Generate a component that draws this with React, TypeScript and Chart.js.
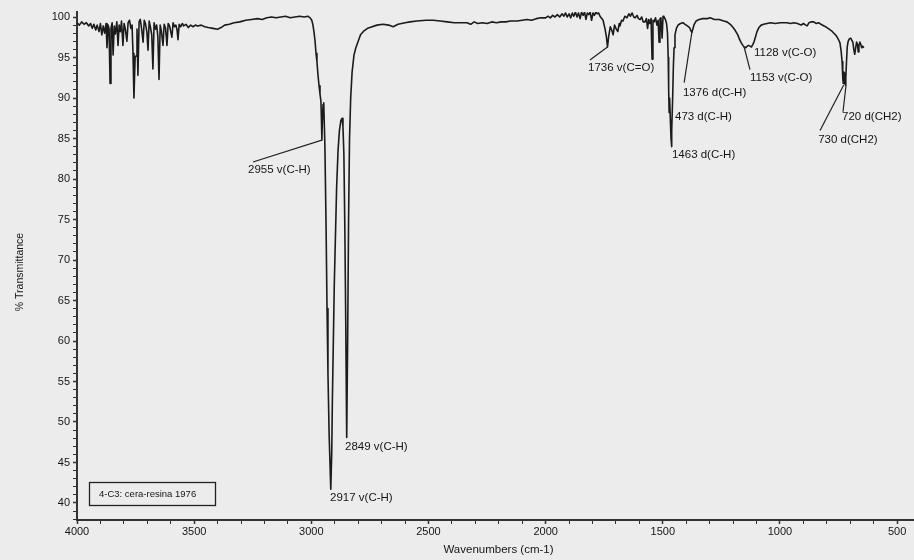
import React, { useEffect, useRef } from "react";
import { Chart, registerables } from "chart.js";

Chart.register(...registerables);

const FONT = '"Liberation Sans", Arial, Helvetica, sans-serif';
const BG = "#ececec";
const INK = "#151515";

// Spectrum: wavenumber (cm-1) and % transmittance
const wavenumbers = [
  4000, 3990, 3980, 3970, 3960, 3950, 3942, 3935, 3928, 3920, 3914, 3906, 3900, 3894, 3888, 3882, 3876, 3872, 3867, 3863,
  3859, 3855, 3850, 3846, 3841, 3836, 3830, 3825, 3820, 3815, 3810, 3804, 3799, 3793, 3787, 3782, 3776, 3770, 3765, 3761,
  3757, 3752, 3748, 3744, 3740, 3735, 3730, 3724, 3718, 3713, 3708, 3702, 3697, 3692, 3687, 3681, 3676, 3671, 3665, 3660,
  3655, 3650, 3645, 3640, 3633, 3628, 3622, 3616, 3611, 3605, 3600, 3595, 3590, 3584, 3578, 3573, 3569, 3564, 3558, 3550,
  3545, 3535, 3525, 3515, 3505, 3495, 3485, 3470, 3455, 3440, 3420, 3400, 3385, 3370, 3350, 3330, 3305, 3280, 3255, 3230,
  3210, 3190, 3170, 3150, 3130, 3110, 3090, 3070, 3050, 3030, 3015, 3005, 2998, 2993, 2988, 2984, 2980, 2976, 2972, 2967,
  2963, 2959, 2957, 2955, 2953, 2950, 2947, 2942, 2937, 2933, 2929, 2924, 2917, 2913, 2910, 2906, 2902, 2897, 2892, 2886,
  2880, 2874, 2869, 2865, 2861, 2857, 2853, 2849, 2845, 2841, 2837, 2832, 2826, 2818, 2810, 2800, 2790, 2775, 2760, 2750,
  2720, 2694, 2670, 2651, 2630, 2600, 2579, 2550, 2510, 2480, 2450, 2420, 2390, 2360, 2336, 2320, 2305, 2290, 2270, 2250,
  2230, 2210, 2190, 2170, 2150, 2122, 2100, 2080, 2060, 2040, 2020, 2000, 1990, 1980, 1970, 1960, 1950, 1940, 1930, 1922,
  1915, 1908, 1900, 1893, 1886, 1880, 1873, 1866, 1860, 1853, 1847, 1840, 1834, 1828, 1822, 1816, 1810, 1804, 1798, 1792,
  1786, 1780, 1774, 1768, 1755, 1747, 1741, 1736, 1731, 1724, 1717, 1712, 1706, 1700, 1692, 1686, 1683, 1676, 1670, 1662,
  1653, 1645, 1638, 1631, 1624, 1618, 1610, 1604, 1597, 1590, 1584, 1576, 1570, 1565, 1560, 1555, 1550, 1546, 1542, 1537,
  1531, 1525, 1520, 1516, 1512, 1508, 1503, 1499, 1495, 1489, 1484, 1480, 1477, 1475, 1473, 1471, 1468, 1465, 1463, 1461,
  1458, 1455, 1452, 1448, 1442, 1435, 1425, 1414, 1405, 1395, 1386, 1380, 1376, 1372, 1366, 1358, 1345, 1330, 1310, 1298,
  1280, 1260, 1240, 1226, 1212, 1200, 1190, 1180, 1172, 1165, 1158, 1153, 1146, 1140, 1134, 1128, 1122, 1116, 1110, 1104,
  1098, 1090, 1080, 1070, 1055, 1040, 1020, 1000, 987, 970, 955, 940, 925, 910, 900, 890, 884, 876, 868, 856,
  845, 835, 825, 812, 800, 790, 780, 770, 760, 750, 744, 739, 735, 732, 730, 727, 724, 721, 719, 716,
  713, 709, 704, 698, 693, 689, 685, 681, 677, 673, 669, 666, 663, 659, 655, 651, 647, 642,
];

const transmittance = [
  99.3, 99.0, 99.4, 99.1, 99.3, 98.9, 99.2, 98.6, 99.1, 98.4, 99.0, 98.2, 99.2, 97.8, 98.9, 98.0, 99.2, 96.2, 99.0, 98.5,
  91.8, 98.6, 99.3, 95.3, 98.9, 97.9, 99.4, 96.5, 99.0, 98.2, 99.5, 96.5, 99.2, 98.4, 97.0, 99.3, 99.6, 98.6, 99.0, 95.5,
  90.0, 95.0, 95.2, 98.5, 92.8, 99.4, 99.7, 98.5, 96.9, 99.6, 99.2, 98.2, 95.9, 99.5, 98.8, 97.8, 93.6, 99.3, 98.5, 99.0,
  97.6, 92.3, 99.0, 98.3, 96.5, 99.1, 98.6, 96.5, 99.2, 98.9, 98.2, 97.5, 99.3, 98.8, 99.0, 98.4, 97.2, 99.1, 98.8, 99.2,
  98.9, 99.1, 98.7, 99.0, 98.8, 99.0, 98.9, 99.0, 98.8, 98.7, 98.6, 98.5, 98.7, 99.0, 99.1, 99.3, 99.4, 99.6, 99.7, 99.8,
  99.7, 99.9, 100.0, 99.9, 100.0, 100.1, 99.9, 100.0, 100.1, 100.0, 100.1, 99.9, 99.6, 99.0, 98.0, 97.0, 95.5, 94.5, 93.0, 91.5,
  90.5, 89.6, 87.5, 84.8, 87.0, 89.2, 89.4, 84.0, 74.0, 64.0, 56.0, 48.5, 41.7, 46.0, 53.0, 60.0, 67.0, 73.0, 79.0, 83.5,
  86.0, 87.2, 87.5, 86.5, 83.0, 74.0, 62.0, 48.1, 60.0, 75.0, 85.0, 90.0, 93.2, 95.3, 96.2, 97.0, 97.8, 98.3, 98.6, 98.7,
  99.0, 99.1, 99.0, 98.8, 99.1, 99.3, 99.4, 99.5, 99.6, 99.6, 99.5, 99.4, 99.3, 99.3, 99.3, 99.1, 99.4, 99.2, 99.3, 99.2,
  99.4, 99.3, 99.4, 99.4, 99.5, 99.5, 99.6, 99.7, 99.6, 99.8, 99.9, 99.9, 100.1, 99.9, 100.2, 100.0, 100.3, 100.0, 100.4, 100.1,
  100.5, 100.0, 100.4, 99.9, 100.5, 100.1, 100.6, 100.0, 100.5, 99.8, 100.6, 100.2, 100.6, 99.7, 100.5, 100.3, 100.6, 99.6, 100.5, 100.2,
  100.6, 100.4, 100.5, 100.1, 99.6, 98.6, 97.6, 96.3, 97.6, 98.8, 98.3, 97.8, 99.0, 98.6, 98.2, 99.2, 98.9, 99.6, 99.5, 100.1,
  99.9, 100.4, 100.1, 100.5, 100.0, 99.9, 100.2, 99.8, 99.7, 100.0, 99.4, 99.4, 99.8, 98.6, 99.7, 99.2, 99.8, 94.8, 99.6, 99.4,
  99.9, 99.0, 99.6, 96.9, 99.8, 99.9, 97.4, 100.1, 100.0, 99.7, 99.2, 98.0, 95.0, 91.0, 88.2, 90.0, 87.5, 85.0, 84.0, 86.0,
  90.0, 93.8, 96.2, 97.8, 98.6, 99.0, 99.2, 99.3, 99.1, 98.9, 98.7, 98.3, 98.1, 98.5, 99.1, 99.5, 99.7, 99.8, 99.8, 99.9,
  99.7, 99.7, 99.5, 99.4, 99.1, 98.7, 98.3, 97.8, 97.2, 96.8, 96.5, 96.3, 96.2, 96.4, 96.5, 96.4, 96.3, 96.6, 97.0, 97.6,
  98.2, 98.7, 99.0, 99.1, 99.2, 99.3, 99.2, 99.3, 99.3, 99.3, 99.2, 99.3, 99.2, 99.0, 99.2, 99.0, 98.9, 99.3, 99.4, 99.4,
  99.2, 99.3, 99.1, 98.9, 98.7, 98.5, 98.3, 98.0, 97.7, 97.2, 96.8, 95.8, 94.5, 92.5, 91.8, 93.2, 93.0, 91.6, 92.5, 94.5,
  96.3, 97.0, 97.3, 97.4, 97.1, 96.9, 96.0, 95.4, 96.2, 96.9, 96.6, 95.7, 96.5, 96.9, 96.6, 96.2, 96.4, 96.2,
];

// Axis ticks
const xTickLabels = [4000, 3500, 3000, 2500, 2000, 1500, 1000, 500];
const xMinorTicks = [3900, 3800, 3700, 3600, 3400, 3300, 3200, 3100, 2900, 2800, 2700, 2600, 2400, 2300, 2200, 2100,
  1900, 1800, 1700, 1600, 1400, 1300, 1200, 1100, 900, 800, 700, 600];
const yTickLabels = [40, 45, 50, 55, 60, 65, 70, 75, 80, 85, 90, 95, 100];
const yMinorTicks = [38, 39, 41, 42, 43, 44, 46, 47, 48, 49, 51, 52, 53, 54, 56, 57, 58, 59, 61, 62, 63, 64, 66, 67, 68, 69,
  71, 72, 73, 74, 76, 77, 78, 79, 81, 82, 83, 84, 86, 87, 88, 89, 91, 92, 93, 94, 96, 97, 98, 99];

// Peak annotations (text anchored at its left edge, vertical middle; data coordinates)
const peakLabels = ["2955 v(C-H)", "2917 v(C-H)", "2849 v(C-H)", "1736 v(C=O)", "1376 d(C-H)", "473 d(C-H)",
  "1463 d(C-H)", "1128 v(C-O)", "1153 v(C-O)", "720 d(CH2)", "730 d(CH2)"];
const labelWavenumber = [3270, 2920, 2856, 1819, 1414, 1448, 1461, 1111, 1128, 735, 837];
const labelTransmittance = [81.1, 40.6, 46.9, 93.7, 90.7, 87.7, 83.0, 95.6, 92.5, 87.7, 84.8];

// Leader lines
const leaderFromW = [3249, 1811, 1409, 1128, 829, 731];
const leaderFromT = [82.1, 94.7, 91.9, 93.5, 86.0, 88.3];
const leaderToW = [2955, 1736, 1376, 1153, 728, 718];
const leaderToT = [84.8, 96.3, 98.1, 96.3, 91.6, 91.6];

const sampleName = "4-C3: cera-resina 1976";
const xTitle = "Wavenumbers (cm-1)";
const yTitle = "% Transmittance";

const overlayPlugin = {
  id: "overlay",
  beforeDraw(chart: any) {
    const { ctx, width, height } = chart;
    ctx.save();
    ctx.fillStyle = BG;
    ctx.fillRect(0, 0, width, height);
    ctx.restore();
  },
  afterDraw(chart: any) {
    const { ctx, chartArea } = chart;
    const xs = chart.scales.x;
    const ys = chart.scales.y;
    ctx.save();
    // leaders
    ctx.strokeStyle = "#222";
    ctx.lineWidth = 1.2;
    for (let i = 0; i < leaderFromW.length; i++) {
      ctx.beginPath();
      ctx.moveTo(xs.getPixelForValue(leaderFromW[i]), ys.getPixelForValue(leaderFromT[i]));
      ctx.lineTo(xs.getPixelForValue(leaderToW[i]), ys.getPixelForValue(leaderToT[i]));
      ctx.stroke();
    }
    // labels
    ctx.fillStyle = INK;
    ctx.font = `11.5px ${FONT}`;
    ctx.textAlign = "left";
    ctx.textBaseline = "middle";
    for (let i = 0; i < peakLabels.length; i++) {
      ctx.fillText(peakLabels[i], xs.getPixelForValue(labelWavenumber[i]), ys.getPixelForValue(labelTransmittance[i]));
    }
    // sample box
    const bx = chartArea.left + 12;
    const by = chartArea.bottom - 38;
    ctx.strokeStyle = "#222";
    ctx.lineWidth = 1.3;
    ctx.strokeRect(bx + 0.5, by + 0.5, 126, 23);
    ctx.font = `9.5px ${FONT}`;
    ctx.fillText(sampleName, bx + 10, by + 12);
    // axis titles
    ctx.font = `11.5px ${FONT}`;
    ctx.textAlign = "center";
    ctx.fillText(xTitle, (chartArea.left + chartArea.right) / 2 + 3, 550);
    ctx.translate(20, 272);
    ctx.rotate(-Math.PI / 2);
    ctx.font = `10.5px ${FONT}`;
    ctx.fillText(yTitle, 0, 0);
    ctx.restore();
  },
};

export default function App() {
  const ref = useRef<HTMLCanvasElement | null>(null);

  useEffect(() => {
    if (!ref.current) return;
    const points = wavenumbers.map((w, i) => ({ x: w, y: transmittance[i] }));
    const chart = new Chart(ref.current, {
      type: "line",
      data: {
        datasets: [
          {
            data: points,
            borderColor: "#1b1b1b",
            borderWidth: 1.6,
            pointRadius: 0,
            tension: 0,
            borderJoinStyle: "round",
            fill: false,
          },
        ],
      },
      options: {
        animation: false,
        responsive: false,
        events: [],
        layout: { padding: { top: 12, right: 0, left: 0, bottom: 0 } },
        plugins: { legend: { display: false }, tooltip: { enabled: false } },
        scales: {
          x: {
            type: "linear",
            reverse: true,
            min: 428,
            max: 4000,
            afterBuildTicks: (s: any) => {
              s.ticks = [...xTickLabels, ...xMinorTicks].sort((a, b) => a - b).map((v) => ({ value: v }));
            },
            afterFit: (s: any) => {
              s.height = 40;
            },
            ticks: {
              autoSkip: false,
              maxRotation: 0,
              padding: 1,
              color: INK,
              font: { family: FONT, size: 11 },
              callback: (v: any) => (xTickLabels.includes(Number(v)) ? String(v) : ""),
            },
            grid: {
              display: true,
              drawOnChartArea: false,
              drawTicks: true,
              tickLength: 4,
              tickColor: "#333",
              tickWidth: (c: any) => (xTickLabels.includes(c.tick?.value) ? 1.5 : 1),
            },
            border: { display: true, color: "#333", width: 2 },
          },
          y: {
            type: "linear",
            min: 37.9,
            max: 100.62,
            afterBuildTicks: (s: any) => {
              s.ticks = [...yTickLabels, ...yMinorTicks].sort((a, b) => a - b).map((v) => ({ value: v }));
            },
            afterFit: (s: any) => {
              s.width = 77;
            },
            ticks: {
              autoSkip: false,
              padding: 3,
              color: INK,
              font: { family: FONT, size: 11 },
              callback: (v: any) => (yTickLabels.includes(Number(v)) ? String(v) : ""),
            },
            grid: {
              display: true,
              drawOnChartArea: false,
              drawTicks: true,
              tickLength: 4,
              tickColor: "#333",
              tickWidth: (c: any) => (yTickLabels.includes(c.tick?.value) ? 1.5 : 1),
            },
            border: { display: true, color: "#333", width: 2 },
          },
        },
      },
      plugins: [overlayPlugin],
    } as any);
    return () => chart.destroy();
  }, []);

  return (
    <div
      style={{
        position: "fixed",
        left: 0,
        top: 0,
        width: 914,
        height: 560,
        overflow: "hidden",
        background: BG,
      }}
    >
      <canvas ref={ref} width={914} height={560} style={{ display: "block", width: 914, height: 560 }} />
    </div>
  );
}
